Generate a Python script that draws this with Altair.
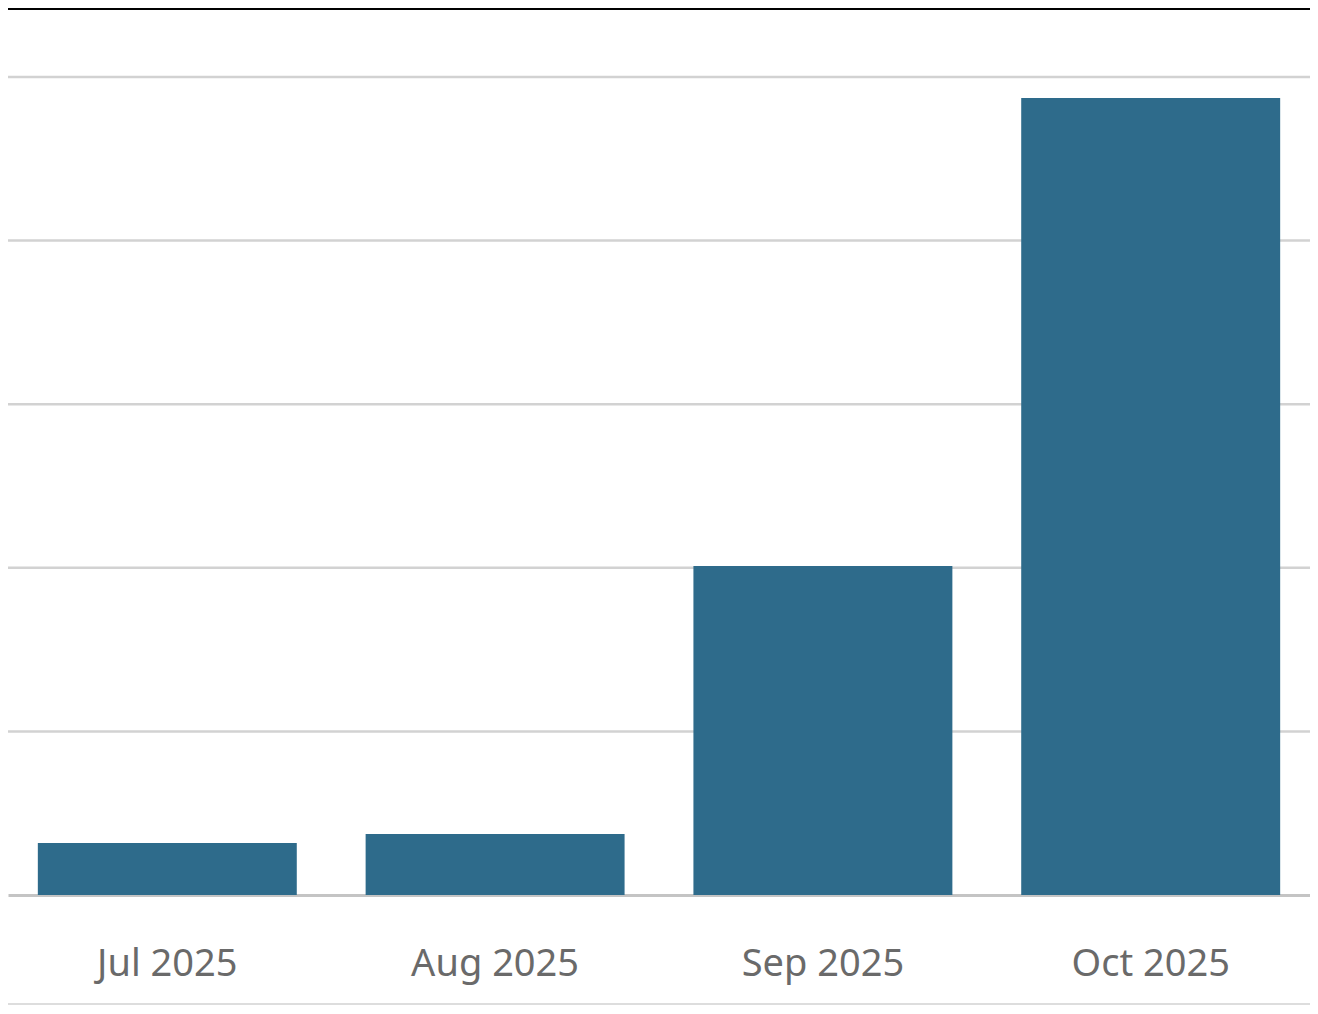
import altair as alt
import pandas as pd

months = ["Jul 2025", "Aug 2025", "Sep 2025", "Oct 2025"]
values = [0.318, 0.373, 2.011, 4.872]
grid_ticks = [1, 2, 3, 4, 5]

df = pd.DataFrame({"month": months, "value": values})
grid_df = pd.DataFrame({"v": grid_ticks})

W, H = 1302, 818
PAD_TOP, PAD_BOTTOM = 69, 111

yscale = alt.Scale(domain=[0, 5], nice=False)

grid = alt.Chart(grid_df).mark_rule(color="#d2d2d2", strokeWidth=2.5).encode(
    y=alt.Y("v:Q", scale=yscale, axis=None)
)

bars = alt.Chart(df).mark_bar(color="#2e6b8b").encode(
    x=alt.X("month:N", sort=months, title=None,
            scale=alt.Scale(paddingInner=0.21, paddingOuter=0.091),
            axis=alt.Axis(labelAngle=0, ticks=False, labelPadding=50,
                          labelFontSize=38, labelColor="#6a6a6a",
                          labelFont="Noto Sans", domainColor="#c4c4c4",
                          domainWidth=3, grid=False)),
    y=alt.Y("value:Q", title=None, scale=yscale, axis=None),
)

top_line = alt.Chart(df).mark_rule(color="#000000", strokeWidth=1.5).encode(
    x=alt.value(-10), x2=alt.value(W + 10), y=alt.value(-68)
)
bottom_line = alt.Chart(df).mark_rule(color="#dddddd", strokeWidth=2).encode(
    x=alt.value(-10), x2=alt.value(W + 10), y=alt.value(H + PAD_BOTTOM - 2)
)

chart = (
    alt.layer(grid, bars, top_line, bottom_line)
    .properties(
        width=W, height=H,
        autosize=alt.AutoSizeParams(type="none"),
        padding={"top": PAD_TOP, "bottom": PAD_BOTTOM, "left": 0, "right": 0},
        view=alt.ViewBackground(stroke="#ffffff", strokeWidth=0, fill="#ffffff"),
    )
    .configure_view(strokeWidth=0, stroke="#ffffff")
    .configure(background="#ffffff")
)

chart.save("out.html", embed_options={"renderer": "svg", "actions": False})
